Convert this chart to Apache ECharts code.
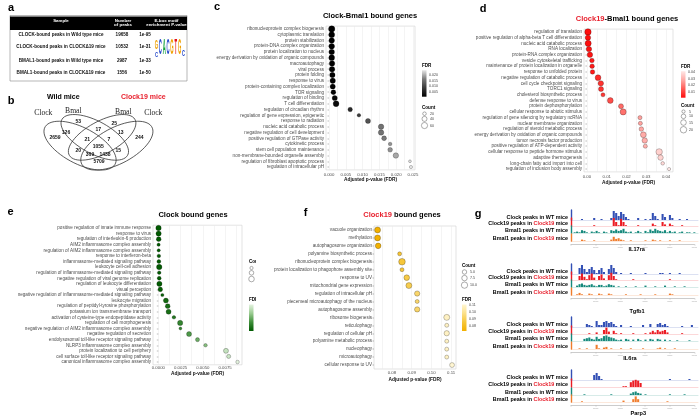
<!DOCTYPE html>
<html>
<head>
<meta charset="utf-8">
<script src="https://cdn.jsdelivr.net/npm/echarts@6/dist/echarts.min.js"></script>
<style>
html,body{margin:0;padding:0;background:#fff}
#main{width:700px;height:419px}
</style>
</head>
<body>
<div id="main"></div>
<script>
// ---- data ----
var tableSamples = ['CLOCK-bound peaks in Wild type mice','CLOCK-bound peaks in CLOCK\u039419 mice','BMAL1-bound peaks in Wild type mice','BMAL1-bound peaks in CLOCK\u039419 mice'];
var tablePeaks = ['19658','10532','2987','1556'];
var tablePvals = ['1e-95','1e-31','1e-33','1e-50'];

var vennCounts = [53,25,126,17,13,2659,244,21,7,1055,20,15,369,1438,5709];

var cTerms = ['ribonucleoprotein complex biogenesis','cytoplasmic translation','protein stabilization','protein-DNA complex organization','protein localization to nucleus','energy derivation by oxidation of organic compounds','macroautophagy','viral process','protein folding','response to virus','protein-containing complex localization','TOR signaling','regulation of binding','T cell differentiation','regulation of circadian rhythm','regulation of gene expression, epigenetic','response to radiation','nucleic acid catabolic process','negative regulation of cell development','positive regulation of GTPase activity','cytokinetic process','stem cell population maintenance','non-membrane-bounded organelle assembly','regulation of fibroblast apoptotic process','regulation of intracellular pH'];
var cFdr = [0.0008,0.0008,0.0008,0.0008,0.0008,0.0008,0.0009,0.0009,0.0010,0.0011,0.0011,0.0013,0.0017,0.0021,0.0063,0.0089,0.0116,0.0155,0.0155,0.0164,0.0182,0.0182,0.0199,0.0241,0.0244];
var cCount = [62,55,48,50,48,52,47,48,45,46,42,38,42,52,32,20,40,46,46,36,20,34,46,12,16];

var dTerms = ['regulation of translation','positive regulation of alpha-beta T cell differentiation','nucleic acid catabolic process','RNA localization','protein-RNA complex organization','vesicle cytoskeletal trafficking','maintenance of protein localization in organelle','response to unfolded protein','negative regulation of catabolic process','cell cycle checkpoint signaling','TORC1 signaling','cholesterol biosynthetic process','defense response to virus','protein dephosphorylation','cellular response to abiotic stimulus','regulation of gene silencing by regulatory ncRNA','nuclear membrane organization','regulation of steroid metabolic process','energy derivation by oxidation of organic compounds','tumor necrosis factor production','positive regulation of ATP-dependent activity','cellular response to peptide hormone stimulus','adaptive thermogenesis','long-chain fatty acid import into cell','regulation of inclusion body assembly'];
var dFdr = [0.0005,0.0005,0.0006,0.0010,0.0015,0.0025,0.0026,0.0028,0.0056,0.0070,0.0071,0.0081,0.0118,0.0172,0.0183,0.0268,0.0270,0.0275,0.0285,0.0292,0.0295,0.0365,0.0372,0.0383,0.0415];
var dCount = [20,14,18,14,14,10,10,10,16,14,12,8,16,12,18,8,8,10,16,14,8,20,14,6,5];

var eTerms = ['positive regulation of innate immune response','response to virus','regulation of interleukin-6 production','AIM2 inflammasome complex assembly','regulation of AIM2 inflammasome complex assembly','response to interferon-beta','inflammasome-mediated signaling pathway','leukocyte cell-cell adhesion','regulation of inflammasome-mediated signaling pathway','negative regulation of viral genome replication','regulation of leukocyte differentiation','visual perception','negative regulation of inflammasome-mediated signaling pathway','leukocyte migration','regulation of peptidyl-tyrosine phosphorylation','potassium ion transmembrane transport','activation of cysteine-type endopeptidase activity','regulation of cell morphogenesis','negative regulation of AIM2 inflammasome complex assembly','negative regulation of secretion','endolysosomal toll-like receptor signaling pathway','NLRP3 inflammasome complex assembly','protein localization to cell periphery','cell surface toll-like receptor signaling pathway','canonical inflammasome complex assembly'];
var eFdr = [0.00002,0.00003,0.00004,0.00003,0.00004,0.00006,0.00006,0.00010,0.00010,0.00010,0.00012,0.00022,0.00045,0.00085,0.00105,0.00115,0.00175,0.00245,0.00248,0.00345,0.00440,0.00530,0.00760,0.00790,0.00890];
var eCount = [14,13,11,5,5,6,7,14,6,7,13,10,5,12,11,12,6,13,4,12,8,6,12,8,6];

var fTerms = ['vacuole organization','methylation','autophagosome organization','polyamine biosynthetic process','ribonucleoprotein complex biogenesis','protein localization to phagophore assembly site','response to UV','mitochondrial gene expression','regulation of intracellular pH','piecemeal microautophagy of the nucleus','autophagosome assembly','ribosome biogenesis','reticulophagy','regulation of cellular pH','polyamine metabolic process','nucleophagy','microautophagy','cellular response to UV'];
var fFdr = [0.0727,0.0727,0.0730,0.0839,0.0851,0.0851,0.0875,0.0886,0.0928,0.0928,0.0928,0.1078,0.1078,0.1078,0.1078,0.1078,0.1078,0.1105];
var fCount = [9,9,8,4,11,4,8,9,7,4,7,9,4,7,4,4,4,6];

// genome browser tracks, 52 bins per locus
var il17raClock   = [0,0,0,0,1,0,0,0,0,2,0,0,1,0,0,0,2,9,7,4,8,6,3,1,0,0,0,2,0,0,1,0,1,7,4,1,0,6,3,0,5,2,0,0,1,0,0,1,0,0,0,0];
var il17raClock19 = [0,0,0,0,0,0,0,0,0,1,0,0,0,0,0,0,0,10,5,1,9,5,1,0,0,0,0,1,0,0,0,0,0,3,1,0,0,5,2,0,3,1,0,0,0,1,0,0,0,0,0,0];
var il17raBmalWT  = [0,1,2,1,4,3,1,0,2,1,3,1,0,2,1,0,4,3,5,3,4,6,2,1,2,0,1,3,1,0,3,1,5,3,6,4,3,2,4,1,3,1,2,0,1,2,0,1,1,0,1,0];
var il17raBmalC19 = [0,0,0,0,2,1,0,0,0,1,0,0,0,0,0,0,2,6,3,4,2,1,0,0,1,0,0,0,0,0,1,0,0,2,1,0,1,0,0,0,1,0,0,0,1,0,0,0,0,0,0,0];

var tgfb1Clock    = [0,0,0,6,9,5,2,5,7,4,1,4,6,2,0,5,9,6,2,0,1,0,0,0,1,0,0,0,0,0,1,0,0,0,0,0,1,1,0,0,1,0,0,0,1,0,0,0,0,0,0,0];
var tgfb1Clock19  = [0,0,0,5,8,4,1,6,8,3,0,5,7,2,0,6,9,5,1,0,0,0,0,0,0,1,0,0,0,0,0,0,0,0,0,0,0,0,0,0,1,0,0,0,0,0,0,0,0,0,0,0];
var tgfb1BmalWT   = [0,0,2,4,5,3,2,3,4,2,1,3,3,1,2,4,3,2,0,1,0,0,1,0,0,0,1,0,0,0,2,0,0,0,1,0,0,0,2,0,0,0,1,0,0,0,1,0,0,0,0,0];
var tgfb1BmalC19  = [0,0,1,3,1,0,0,2,1,0,0,2,1,0,0,2,1,0,0,0,0,0,1,0,0,0,0,0,1,0,0,0,0,0,1,0,0,0,0,0,2,1,0,0,0,0,0,0,0,0,0,0];

var il6raClock    = [0,0,0,0,0,0,3,2,1,0,6,2,2,5,6,4,5,3,1,0,2,0,0,0,1,0,0,0,0,2,0,0,3,0,0,3,4,2,3,1,0,0,0,0,0,1,0,0,0,2,0,0];
var il6raClock19  = [0,0,0,0,0,0,0,1,0,0,2,0,0,5,8,3,0,4,1,0,1,0,0,0,0,1,0,0,0,0,1,0,2,4,2,5,3,4,5,2,0,0,0,0,0,1,0,0,0,0,0,0];
var il6raBmalWT   = [0,0,0,0,0,3,4,5,3,2,6,3,4,7,8,6,5,4,2,1,2,0,3,2,0,2,0,3,1,0,2,0,3,2,0,3,2,0,2,0,1,0,0,1,0,0,0,0,1,0,0,0];
var il6raBmalC19  = [0,0,0,1,0,0,1,0,0,0,6,1,0,2,3,0,1,0,0,0,1,0,0,0,1,0,0,0,0,1,0,0,0,0,0,1,2,0,1,0,0,0,1,0,0,0,0,0,0,0,0,0];

var parp3Clock    = [0,0,0,0,0,0,0,0,0,5,7,4,1,0,0,0,0,0,0,0,0,0,0,0,0,0,0,0,0,0,0,0,0,0,0,0,0,0,0,0,1,0,0,0,0,0,0,0,1,0,0,0];
var parp3Clock19  = [0,0,0,0,0,0,0,0,0,0,0,0,0,0,0,0,0,0,0,0,0,1,1,0,6,8,9,8,5,0,0,0,0,0,0,0,0,0,0,0,0,0,0,0,0,0,0,0,0,0,0,0];
var parp3BmalWT   = [0,0,0,0,0,1,0,0,0,0,0,0,0,0,0,0,1,0,0,0,0,0,0,0,2,4,5,3,2,0,1,0,0,0,0,0,0,0,0,0,1,0,0,0,0,0,1,0,0,0,0,0];
var parp3BmalC19  = [0,0,0,0,1,0,0,0,0,0,0,0,0,0,0,0,0,0,0,0,0,2,0,0,0,4,8,4,0,0,0,0,0,0,0,0,0,0,0,1,0,0,0,0,0,0,0,0,0,0,0,0];

var loci = [
  {name:'IL17ra', tracks:[il17raClock, il17raClock19, il17raBmalWT, il17raBmalC19]},
  {name:'Tgfb1',  tracks:[tgfb1Clock, tgfb1Clock19, tgfb1BmalWT, tgfb1BmalC19]},
  {name:'IL6ra',  tracks:[il6raClock, il6raClock19, il6raBmalWT, il6raBmalC19]},
  {name:'Parp3',  tracks:[parp3Clock, parp3Clock19, parp3BmalWT, parp3BmalC19]}
];

// ---- layout / styles ----
var FONT = 'Liberation Sans';
var RED = '#e8212e';
var trackColors = ['#3350b5','#ec1c24','#15897c','#f07c2c'];
var grids = [], xAxes = [], yAxes = [], series = [], visualMaps = [], els = [];

function T(x, y, s, size, o) {
  o = o || {};
  var st = {text:s, fontSize:size, fontFamily:o.family||FONT, fontWeight:o.bold?'bold':'normal',
    fill:o.color||'#000', align:o.align||'center', verticalAlign:o.va||'middle'};
  if (o.rich) st.rich = o.rich;
  var e = {type:'text', x:x, y:y, style:st, silent:true, z:o.z==null?5:o.z};
  if (o.sx) e.scaleX = o.sx;
  if (o.sy) e.scaleY = o.sy;
  return e;
}

function dotPlot(box, terms, fdr, cnt, k, ax, colors) {
  var i = grids.length;
  grids.push({left:box[0], top:box[1], width:box[2], height:box[3], show:true, borderColor:'#d2d2d2', borderWidth:0.6});
  var lines = [];
  for (var v = ax.l0; v <= ax.max + 1e-9; v += ax.lstep) lines.push(+v.toFixed(6));
  xAxes.push({gridIndex:i, type:'value', min:ax.min, max:ax.max,
    name:'Adjusted p-value (FDR)', nameLocation:'middle', nameGap:ax.gap,
    nameTextStyle:{fontSize:4.8, fontWeight:'bold', color:'#111', fontFamily:FONT},
    axisLine:{show:false}, axisTick:{show:false, customValues:lines},
    axisLabel:{fontSize:4.3, color:'#4d4d4d', fontFamily:FONT, margin:ax.margin, customValues:ax.ticks,
      formatter:function(val){return val.toFixed(ax.dec);}},
    splitLine:{show:true, lineStyle:{color:'#e8e8e8', width:0.5}}});
  yAxes.push({gridIndex:i, type:'category', data:terms, inverse:true,
    axisLine:{show:false},
    axisTick:{show:true, length:1.5, alignWithLabel:true, interval:0, lineStyle:{color:'#555', width:0.4}},
    axisLabel:{interval:0, fontSize:4.6, color:'#4d4d4d', fontFamily:FONT, margin:2},
    splitLine:{show:false}});
  var si = series.length;
  series.push({type:'scatter', xAxisIndex:i, yAxisIndex:i, silent:true, z:3,
    data:terms.map(function(t, j){return [fdr[j], t, cnt[j]];}),
    symbolSize:function(v){return k * Math.sqrt(v[2]);},
    itemStyle:{borderColor:'rgba(0,0,0,0.6)', borderWidth:0.4, opacity:1}});
  visualMaps.push({type:'continuous', show:false, seriesIndex:si, dimension:0,
    min:Math.min.apply(null, fdr), max:Math.max.apply(null, fdr), inRange:{color:colors}});
}

function legend(x, yF, yC, fdr, colors, ticks, dec, counts, k, cntLab, z) {
  var mn = Math.min.apply(null, fdr), mx = Math.max.apply(null, fdr);
  var bx = x, by = yF + 4.5, bh = 26.5, bw = 4.5;
  els.push(T(x, yF, 'FDR', 4.6, {bold:true, align:'left', z:z}));
  var stops = colors.slice().reverse().map(function(c, j, a){return {offset:j/(a.length-1), color:c};});
  els.push({type:'rect', shape:{x:bx, y:by, width:bw, height:bh}, style:{fill:new echarts.graphic.LinearGradient(0,0,0,1,stops)}, silent:true, z:z});
  ticks.forEach(function(t){
    var yy = by + bh - (t - mn) / (mx - mn) * bh;
    els.push(T(bx + bw + 2.5, yy, t.toFixed(dec), 3.6, {align:'left', color:'#444', z:z}));
  });
  els.push(T(x, yC, 'Count', 4.6, {bold:true, align:'left', z:z}));
  var yy = yC + 6;
  counts.forEach(function(c, j){
    var r = k * Math.sqrt(c) / 2;
    els.push({type:'circle', shape:{cx:x + 2.5, cy:yy, r:r}, style:{fill:'#fff', stroke:'#333', lineWidth:0.4}, silent:true, z:z});
    els.push(T(x + 8, yy, cntLab[j], 3.6, {align:'left', color:'#444', z:z}));
    yy += r * 2 + 1.6;
  });
}

// c
var cCols = ['#000000','#3a3a3a','#7a7a7a','#e6e6e6'];
dotPlot([326, 26.1, 89, 143.8], cTerms, cFdr, cCount, 0.8,
  {min:-0.0009, max:0.0256, ticks:[0,0.005,0.01,0.015,0.02,0.025], l0:0, lstep:0.0025, dec:3, margin:2.8, gap:7.6}, cCols);
// d
var dCols = ['#ff0d0d','#ff5a55','#ffa8a4','#ffe8e6'];
dotPlot([584, 29.1, 89, 142.8], dTerms, dFdr, dCount, 1.45,
  {min:-0.0015, max:0.0435, ticks:[0,0.01,0.02,0.03,0.04], l0:0, lstep:0.005, dec:2, margin:3, gap:7.6}, dCols);
// e
var eCols = ['#005a00','#3f8f3a','#9acb91','#e3f2df'];
dotPlot([153, 225.2, 89, 139.6], eTerms, eFdr, eCount, 1.45,
  {min:-0.0006, max:0.0094, ticks:[0,0.0025,0.005,0.0075], l0:0, lstep:0.00125, dec:4, margin:1.4, gap:6.1}, eCols);
// f
var fCols = ['#f2b000','#f6c63a','#fbe08a','#fff6d2'];
dotPlot([374, 226, 82, 143], fTerms, fFdr, fCount, 2.0,
  {min:0.0709, max:0.1125, ticks:[0.08,0.09,0.10,0.11], l0:0.075, lstep:0.005, dec:2, margin:1.5, gap:7.9}, fCols);

legend(422, 65.7, 107.7, cFdr, cCols, [0.005,0.010,0.015,0.020], 3, [20,40,60], 0.8, ['20','40','60'], 5);
legend(681, 66.7, 105.5, dFdr, dCols, [0.01,0.02,0.03,0.04], 2, [5,10,15,20], 1.45, ['5','10','15','20'], 5);
legend(249, 300, 262, eFdr, eCols, [0.0025,0.005,0.0075], 4, [5,10,15], 1.45, ['5','10','15'], -3);
legend(462, 300, 266, fFdr, fCols, [0.08,0.09,0.10,0.11], 2, [5,7.5,10], 2.0, ['5.0','7.5','10.0'], 5);
// panel f sits over the clipped legend of e
els.push({type:'rect', shape:{x:256, y:228, width:60, height:140}, style:{fill:'#fff'}, silent:true, z:-2});

// titles
els.push(T(370, 16, 'Clock-Bmal1 bound genes', 7.5, {bold:true}));
els.push(T(627, 19, '{r|Clock19}{k|-Bmal1 bound genes}', 7.5, {bold:true,
  rich:{r:{fill:RED, fontSize:7.5, fontWeight:'bold', fontFamily:FONT}, k:{fill:'#000', fontSize:7.5, fontWeight:'bold', fontFamily:FONT}}}));
els.push(T(193, 215, 'Clock bound genes', 7.5, {bold:true}));
els.push(T(402, 215, '{r|Clock19}{k| bound genes}', 7.5, {bold:true,
  rich:{r:{fill:RED, fontSize:7.5, fontWeight:'bold', fontFamily:FONT}, k:{fill:'#000', fontSize:7.5, fontWeight:'bold', fontFamily:FONT}}}));

// panel letters
[['a',11,8],['b',11,101],['c',217,7],['d',483,8.5],['e',10.5,212],['f',305.5,213],['g',478,214]].forEach(function(p){
  els.push(T(p[1], p[2], p[0], 11, {bold:true}));
});

// ---- a: table ----
els.push({type:'rect', shape:{x:10, y:15.5, width:177, height:65.5}, style:{fill:'none', stroke:'#888', lineWidth:0.6}, silent:true, z:4});
els.push({type:'rect', shape:{x:10, y:16.5, width:177, height:13.5}, style:{fill:'#000'}, silent:true, z:4});
els.push(T(61, 21, 'Sample', 4.4, {bold:true, color:'#fff'}));
els.push(T(123, 20.7, 'Number', 4.4, {bold:true, color:'#fff'}));
els.push(T(123, 25.2, 'of peaks', 4.4, {bold:true, color:'#fff'}));
els.push(T(166.5, 20.7, 'E-box motif', 4.4, {bold:true, color:'#fff'}));
els.push(T(166.5, 25.2, 'enrichment P-value', 4.4, {bold:true, color:'#fff'}));
var rowY = [34.3, 46.7, 60.5, 72.3];
tableSamples.forEach(function(s, j){
  els.push(T(61, rowY[j], s, 4.6, {bold:true, color:'#111'}));
  els.push(T(122, rowY[j], tablePeaks[j], 4.6, {bold:true, color:'#111'}));
  els.push(T(145, rowY[j], tablePvals[j], 4.6, {bold:true, color:'#111'}));
});
// E-box sequence logo
var logo = [['G','#f0a000',2.2,51],['C','#2144c8',1.4,58],['C','#2144c8',4.2,58],['A','#12a03a',4.2,58],['C','#2144c8',4.2,58],['G','#f0a000',4.2,58],['T','#e3131b',4.2,58],['G','#f0a000',4.0,58],['C','#2144c8',1.6,58]];
logo.forEach(function(l, j){
  var cx = j === 0 ? 156.5 : (j === 1 ? 156.5 : 156.5 + (j - 1) * 3.85);
  els.push(T(cx, l[3], l[0], 5.4, {bold:true, color:l[1], va:'bottom', sx:0.78, sy:l[2], z:6}));
});

// ---- b: Venn ----
els.push(T(63.3, 97.3, 'Wild mice', 7, {bold:true}));
els.push(T(143.3, 97.3, 'Clock19 mice', 7, {bold:true, color:RED}));
[['Clock',43.3,113.3],['Bmal',73.3,111],['Bmal',123.3,111.5],['Clock',153.3,113.3]].forEach(function(p){
  els.push(T(p[1], p[2], p[0], 7.6, {family:'Liberation Serif', color:'#222'}));
});
var vennShapes = [
  {cx:0.35, cy:0.55, rx:0.37, ry:0.19, rot:-Math.PI/4},
  {cx:0.47, cy:0.45, rx:0.35, ry:0.17, rot:-Math.PI/4},
  {cx:0.53, cy:0.45, rx:0.35, ry:0.17, rot: Math.PI/4},
  {cx:0.65, cy:0.55, rx:0.37, ry:0.19, rot: Math.PI/4}
];
els.push({type:'group', x:37.1, y:100, scaleX:122.7, scaleY:83, silent:true,
  children:vennShapes.map(function(s){
    return {type:'ellipse', x:s.cx, y:s.cy, rotation:s.rot, shape:{cx:0, cy:0, rx:s.rx, ry:s.ry},
      style:{fill:'none', stroke:'#333', lineWidth:0.7, strokeNoScale:true}, z:4};
  })});
var vennPos = [[78.3,121.7],[114.3,123.3],[66,132.3],[98.3,130],[120.7,132.3],[55,137.3],[139.3,137.3],[87.3,140],[109,140],[98.3,146.7],[78.3,151],[118.3,151],[90,154.3],[105,154.3],[99,161.7]];
vennCounts.forEach(function(c, j){
  els.push(T(vennPos[j][0], vennPos[j][1], String(c), 5, {bold:true, color:'#111'}));
});

// ---- g: genome browser tracks ----
var bins = il17raClock.map(function(_, j){return j;});
var labelY = [[218,224,231,239],[272,278,285,293],[325,332,339,347],[378,385,393,400]];
var geneNameY = [249.5, 311.5, 358.3, 413.3];
var geneNameX = [636.7, 637, 630, 638.3];
var trackH = [10, 8, 7, 7];
var trackText = ['Clock peaks in WT mice', 'Clock19 peaks in {r|Clock19} mice', 'Bmal1 peaks in WT mice', 'Bmal1 peaks in {r|Clock19} mice'];
var TL = 571, TW = 127;
loci.forEach(function(loc, li){
  loc.tracks.forEach(function(vals, ti){
    var base = labelY[li][ti] + 2;
    var gi = grids.length;
    grids.push({left:TL, top:base - trackH[ti], width:TW, height:trackH[ti]});
    xAxes.push({gridIndex:gi, type:'category', data:bins, boundaryGap:true,
      axisLine:{show:true, lineStyle:{color:trackColors[ti], width:0.5, opacity:0.35}},
      axisTick:{show:false}, axisLabel:{show:false}, splitLine:{show:false}});
    yAxes.push({gridIndex:gi, type:'value', min:0, max:10,
      axisLine:{show:true, lineStyle:{color:trackColors[ti], width:1.4}},
      axisTick:{show:false}, axisLabel:{show:false}, splitLine:{show:false}});
    series.push({type:'bar', xAxisIndex:gi, yAxisIndex:gi, data:vals, barCategoryGap:'15%', silent:true,
      itemStyle:{color:trackColors[ti]}});
    els.push(T(568, labelY[li][ti], trackText[ti], 5.4, {bold:true, align:'right',
      rich:{r:{fill:RED, fontSize:5.4, fontWeight:'bold', fontFamily:FONT}}}));
  });
  // coordinate ruler under each locus
  var ri = grids.length;
  grids.push({left:TL, top:labelY[li][3] + 5, width:TW, height:0.5});
  xAxes.push({gridIndex:ri, type:'value', min:0, max:130, interval:26,
    axisLine:{show:true, lineStyle:{color:'#999', width:0.5}},
    axisTick:{show:true, length:1.2, lineStyle:{color:'#999', width:0.4}},
    axisLabel:{show:true, fontSize:2.6, color:'#777', margin:1, formatter:function(v){return v ? '\u2014\u2014' : '';}},
    splitLine:{show:false}});
  yAxes.push({gridIndex:ri, type:'value', show:false});
  els.push(T(geneNameX[li], geneNameY[li], loc.name, 5.6, {bold:true}));
});

var chart = echarts.init(document.getElementById('main'), null, {renderer:'canvas'});
chart.setOption({
  backgroundColor:'#fff',
  animation:false,
  grid:grids,
  xAxis:xAxes,
  yAxis:yAxes,
  visualMap:visualMaps,
  series:series,
  graphic:{elements:els}
});
</script>
</body>
</html>
